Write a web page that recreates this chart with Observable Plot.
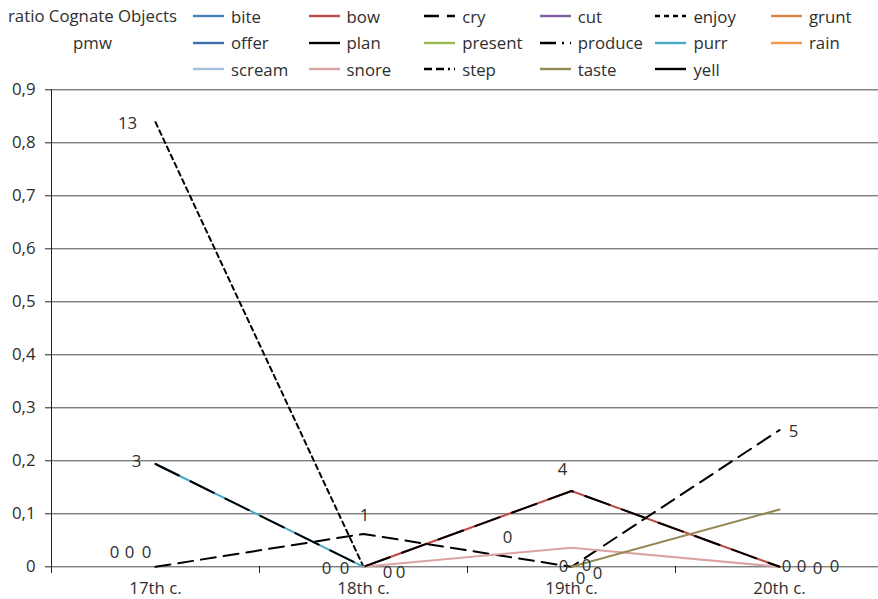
<!DOCTYPE html>
<html>
<head>
<meta charset="utf-8">
<script src="https://cdn.jsdelivr.net/npm/d3@7"></script>
<script src="https://cdn.jsdelivr.net/npm/@observablehq/plot@0.6"></script>
<style>
  html, body { margin: 0; padding: 0; background: #fff; }
  body { width: 878px; height: 599px; overflow: hidden; font-family: "Open Sans", sans-serif; color: #2e2e2e; }
  #legend {
    display: grid;
    grid-template-columns: 185px repeat(6, 115.6px);
    grid-template-rows: repeat(3, 26.5px);
    padding-top: 3px;
    height: 77px;
    font-size: 16.8px;
    color: #2e2e2e;
  }
  #legend .title { grid-column: 1; grid-row: 1 / span 2; text-align: center; line-height: 26.5px; white-space: nowrap; }
  #legend .item { display: flex; align-items: center; padding-left: 8px; white-space: nowrap; }
  #legend .item svg { width: 31px; height: 4px; margin-right: 7px; flex: none; }
  #chart svg { display: block; }
</style>
</head>
<body>
<div id="legend"></div>
<div id="chart"></div>
<script>
// Periods on the category axis
const periods = ["17th c.", "18th c.", "19th c.", "20th c."];

// Verbs, in legend / drawing order
const seriesNames = ["bite", "bow", "cry", "cut", "enjoy", "grunt", "offer", "plan", "present",
                     "produce", "purr", "rain", "scream", "snore", "step", "taste", "yell"];

// Ratio of cognate objects per million words, one value per period (null = no point)
const bite    = [null, null, null, null];
const bow     = [null, 0, 0.143, 0];
const cry     = [0, 0.062, 0, 0.258];
const cut     = [null, null, null, null];
const enjoy   = [0.839, 0, null, null];
const grunt   = [null, null, null, null];
const offer   = [null, null, null, null];
const plan    = [null, null, null, null];
const present = [null, null, null, null];
const produce = [null, null, null, null];
const purr    = [0.194, 0, null, null];
const rain    = [null, null, null, null];
const scream  = [null, null, null, null];
const snore   = [null, 0, 0.036, 0];
const step    = [null, null, null, null];
const taste   = [null, null, 0, 0.108];
const yell    = [0.194, 0, 0.143, 0];

// Raw counts shown as data labels: [verb, period index, count]
const countLabels = [
  ["enjoy", 0, 13], ["yell", 0, 3], ["snore", 0, 0], ["bow", 0, 0], ["cry", 0, 0],
  ["cry", 1, 1], ["enjoy", 1, 0], ["purr", 1, 0], ["bow", 1, 0], ["snore", 1, 0],
  ["snore", 2, 0], ["yell", 2, 4], ["cry", 2, 0], ["taste", 2, 0], ["purr", 2, 0], ["enjoy", 2, 0],
  ["yell", 3, 0], ["bow", 3, 0], ["snore", 3, 0], ["purr", 3, 0], ["cry", 3, 5]
];

// y-axis ticks
const yTicks = [0, 0.1, 0.2, 0.3, 0.4, 0.5, 0.6, 0.7, 0.8, 0.9];

const seriesValues = {bite, bow, cry, cut, enjoy, grunt, offer, plan, present,
                      produce, purr, rain, scream, snore, step, taste, yell};

// Line styles per verb
const styles = {
  bite:    {stroke: "#4a7ebb"},
  bow:     {stroke: "#be4b48"},
  cry:     {stroke: "#000", dash: "15,8"},
  cut:     {stroke: "#7d60a0"},
  enjoy:   {stroke: "#000", dash: "5,4"},
  grunt:   {stroke: "#dd8140"},
  offer:   {stroke: "#3f71b0"},
  plan:    {stroke: "#000"},
  present: {stroke: "#98b954"},
  produce: {stroke: "#000", dash: "16,6,2,6"},
  purr:    {stroke: "#46aac5"},
  rain:    {stroke: "#f69546"},
  scream:  {stroke: "#a7bfde"},
  snore:   {stroke: "#dba3a2"},
  step:    {stroke: "#000", dash: "8,4,8,4,2,4"},
  taste:   {stroke: "#938953"},
  yell:    {stroke: "#000"}
};

// Legend
const legend = document.getElementById("legend");
const title = document.createElement("div");
title.className = "title";
title.innerHTML = "ratio Cognate Objects<br>pmw";
legend.appendChild(title);
seriesNames.forEach((name, k) => {
  const st = styles[name];
  const item = document.createElement("div");
  item.className = "item";
  item.style.gridColumn = String((k % 6) + 2);
  item.style.gridRow = String(Math.floor(k / 6) + 1);
  item.innerHTML =
    `<svg viewBox="0 0 31 4"><line x1="0" x2="31" y1="2" y2="2" stroke="${st.stroke}" stroke-width="2.4"` +
    (st.dash ? ` stroke-dasharray="${st.dash}"` : "") + `/></svg><span>${name}</span>`;
  legend.appendChild(item);
});

// Long rows for the line marks
const rows = seriesNames.flatMap(name =>
  seriesValues[name].map((v, i) => ({name, i, v})).filter(d => d.v !== null));

const lineMarks = seriesNames.map(name => {
  const st = styles[name];
  const data = rows.filter(d => d.name === name);
  // yell runs on top of purr and bow; its long dashes let those colours show through
  const dash = name === "yell" ? "26,13" : st.dash;
  return Plot.line(data, {x: "i", y: "v", stroke: st.stroke, strokeWidth: 2,
                          strokeDasharray: dash, strokeLinejoin: "miter"});
});

// Pixel nudges for each count label, in countLabels order
const labelNudge = [
  [-28, 1], [-19, -2], [-41, -14], [-26, -14], [-9, -14],
  [1, -18], [-37, 2], [-19, 2], [24, 6], [37, 6],
  [-64, -10], [-9, -21], [-8, 0], [15, -1], [9, 12], [26, 7],
  [7, 0], [22, 0], [38, 2], [55, 0], [14, 2]
];

const labelMarks = countLabels.map(([name, i, count], k) => {
  const v = seriesValues[name][i] ?? 0;
  return Plot.text([{i, v, count}], {
    x: "i", y: "v", text: d => String(d.count),
    dx: labelNudge[k][0], dy: labelNudge[k][1],
    fontSize: 16.8, fill: "#2e2e2e"
  });
});

const chart = Plot.plot({
  width: 878,
  height: 519,
  marginLeft: 51,
  marginRight: 0,
  marginTop: 9,
  marginBottom: 33,
  style: {fontFamily: "Open Sans, sans-serif", fontSize: "16.8px", color: "#2e2e2e", background: "#fff", overflow: "visible"},
  x: {domain: [-0.5, 3.5], range: [51, 883]},
  y: {domain: [0, 0.9], range: [486.3, 9.3]},
  marks: [
    Plot.ruleY(yTicks, {stroke: "#4a4a4a", strokeWidth: 1}),
    Plot.ruleX([-0.5], {y1: 0, y2: 0.9, stroke: "#222", strokeWidth: 1}),
    Plot.axisY({ticks: yTicks, tickSize: 6, tickPadding: 10, fontSize: 16.8,
                tickFormat: d => d === 0 ? "0" : d.toFixed(1).replace(".", ","),
                label: null, stroke: "#222"}),
    Plot.axisX({ticks: [-0.5, 0.5, 1.5, 2.5, 3.5], tickSize: 7, tickFormat: () => "",
                label: null, stroke: "#222"}),
    Plot.axisX({ticks: [0, 1, 2, 3], tickSize: 0, tickPadding: 16, fontSize: 16.8,
                tickFormat: i => periods[i], label: null}),
    ...lineMarks,
    ...labelMarks
  ]
});
document.getElementById("chart").appendChild(chart);
</script>
</body>
</html>
